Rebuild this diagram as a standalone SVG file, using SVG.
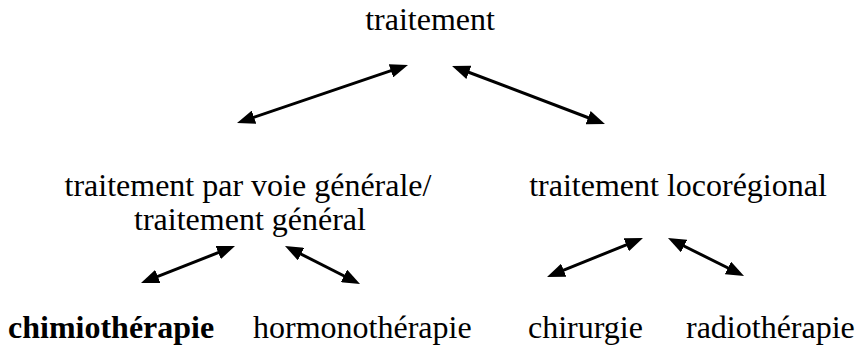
<svg xmlns="http://www.w3.org/2000/svg" width="859" height="346" viewBox="0 0 859 346">
<style>
text{font-family:'Liberation Serif','Times New Roman',Tinos,serif;font-size:32px;fill:#000}
.b{font-weight:bold}
.c line{stroke:#000;stroke-width:3;marker-start:url(#ah);marker-end:url(#ah)}
</style>
<defs>
<marker id="ah" markerUnits="userSpaceOnUse" markerWidth="18" markerHeight="14" refX="8" refY="7" orient="auto-start-reverse" viewBox="0 0 18 14">
<path d="M0,0 L18,7 L0,14 z" fill="#000"/>
</marker>
</defs>
<rect width="859" height="346" fill="#fff"/>
<g id="n-traitement"><text x="430" y="30" text-anchor="middle">traitement</text></g>
<g id="n-general"><text x="248" y="196" text-anchor="middle">traitement par voie générale/</text><text x="250" y="230" text-anchor="middle">traitement général</text></g>
<g id="n-locoregional"><text x="678" y="196" text-anchor="middle">traitement locorégional</text></g>
<g id="n-chimio"><text class="b" x="8" y="338">chimiothérapie</text></g>
<g id="n-hormono"><text x="253" y="338">hormonothérapie</text></g>
<g id="n-chirurgie"><text x="528" y="338">chirurgie</text></g>
<g id="n-radio"><text x="686" y="338">radiothérapie</text></g>
<g id="connectors" class="c">
<line x1="246.5" y1="119.8" x2="398.5" y2="68.2"/>
<line x1="461.4" y1="69.5" x2="595.6" y2="120.5"/>
<line x1="150.3" y1="279.3" x2="225.7" y2="249.7"/>
<line x1="293.9" y1="250.5" x2="351.1" y2="279.5"/>
<line x1="556.3" y1="273.2" x2="633.7" y2="241.8"/>
<line x1="676.9" y1="242.5" x2="735.1" y2="271.5"/>
</g>
</svg>
